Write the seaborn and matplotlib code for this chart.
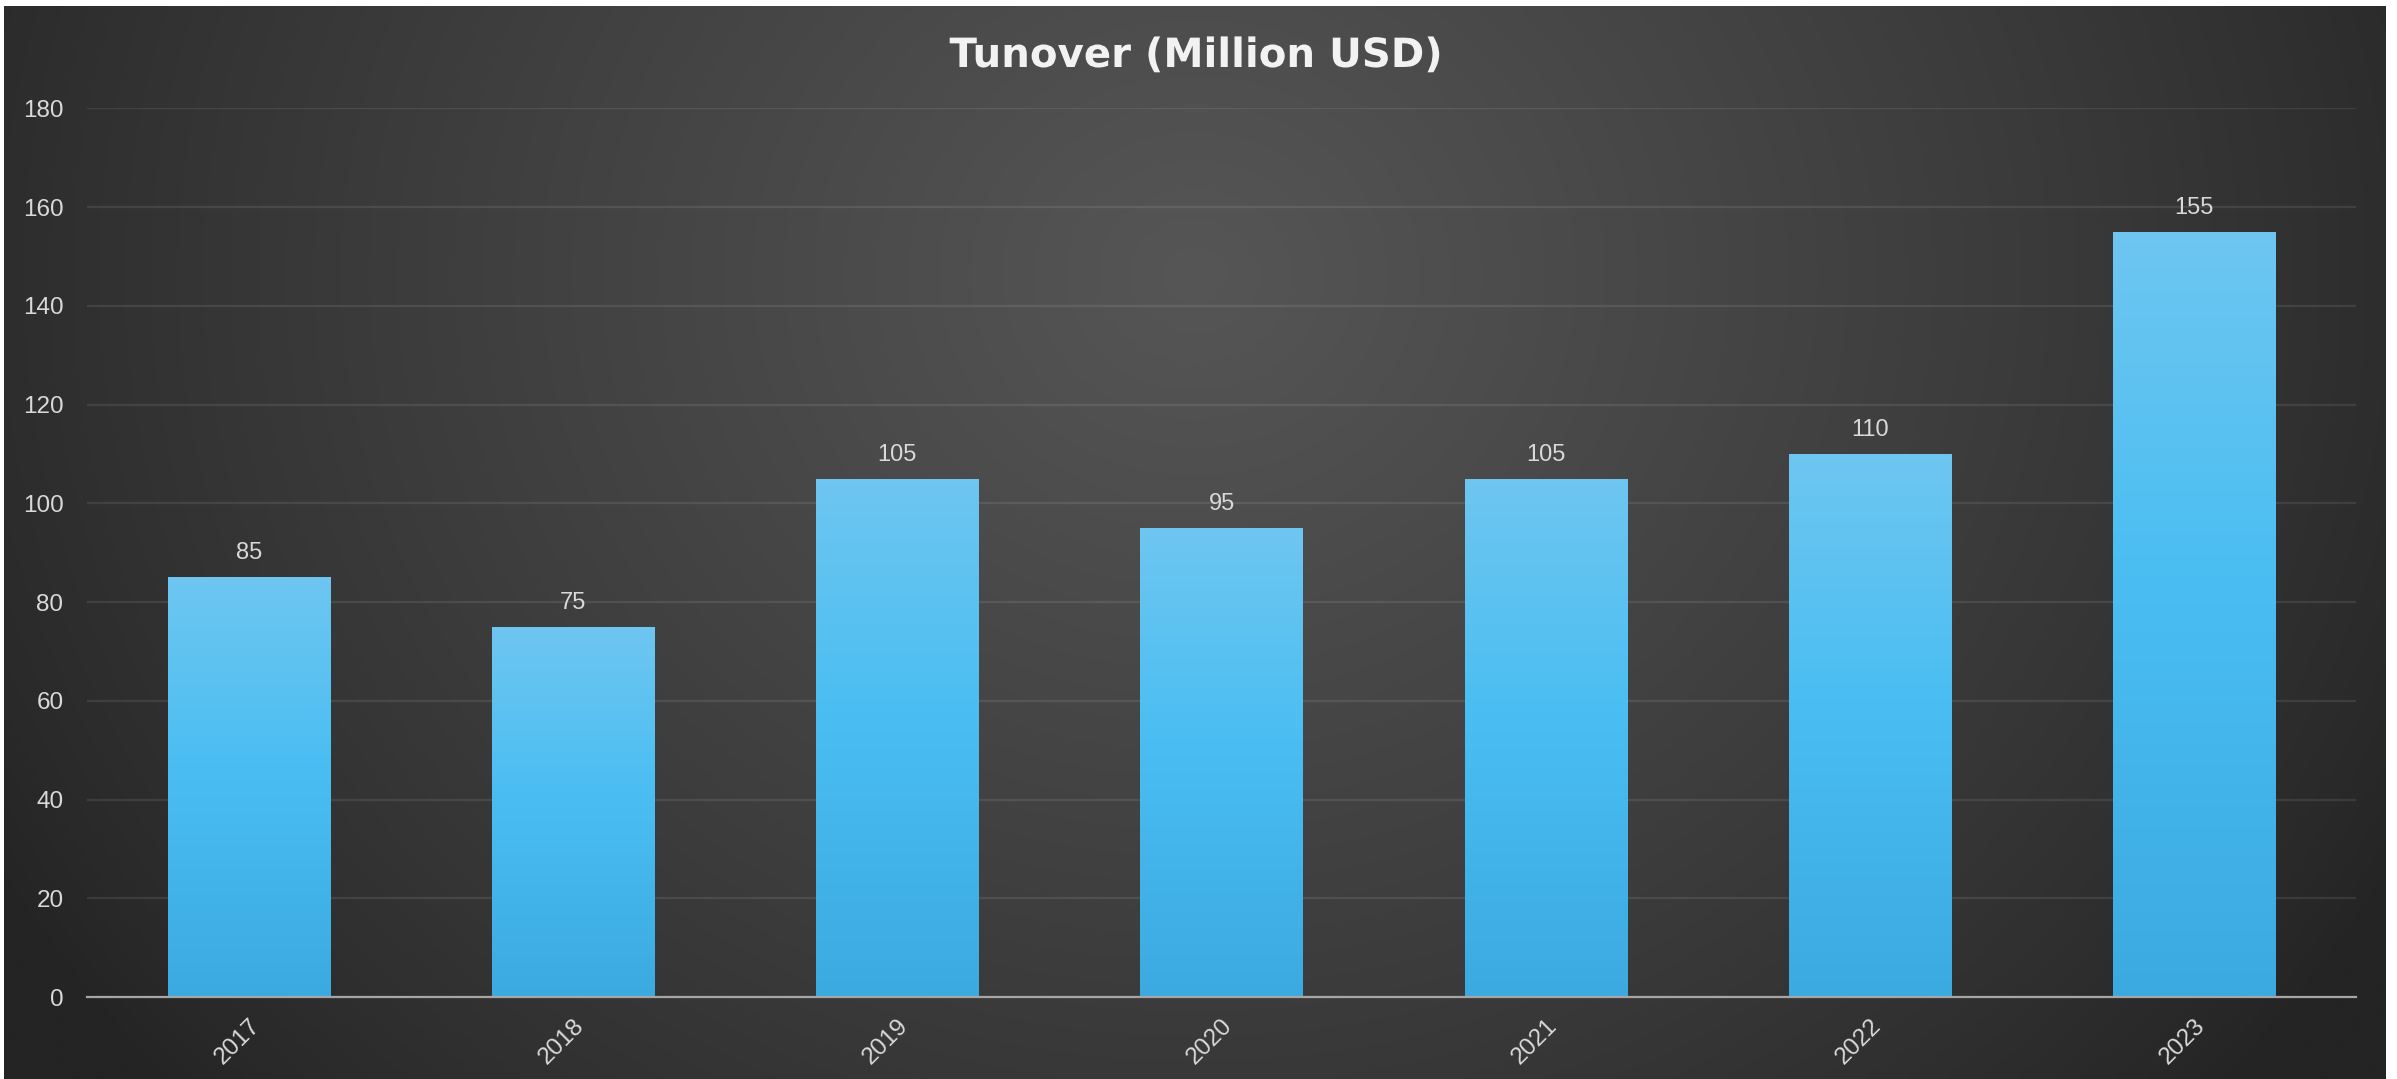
import numpy as np
import pandas as pd
import matplotlib
matplotlib.use("Agg")
import matplotlib.pyplot as plt
import matplotlib.patheffects as pe
from matplotlib.colors import LinearSegmentedColormap
import seaborn as sns

# ---- data ----
years = ["2017", "2018", "2019", "2020", "2021", "2022", "2023"]
turnover = [85, 75, 105, 95, 105, 110, 155]
title = "Tunover (Million USD)"
y_ticks = [0, 20, 40, 60, 80, 100, 120, 140, 160, 180]

df = pd.DataFrame({"year": years, "turnover": turnover})

sns.set_theme(style="white")
plt.rcParams["font.family"] = ["Liberation Sans", "DejaVu Sans"]

W, H, DPI = 2397, 1079, 100
fig = plt.figure(figsize=(W / DPI, H / DPI), dpi=DPI, facecolor="white")

# ---- dark radial background panel ----
bg = fig.add_axes([4 / W, 0, (2386 - 4) / W, (H - 6) / H], zorder=0)
gx, gy = np.meshgrid(np.linspace(0, 1, 480), np.linspace(0, 1, 220))
d = np.sqrt(((gx - 0.5) / 0.58) ** 2 + ((gy - 0.25) / 1.15) ** 2)
v = (0x24 + (0x56 - 0x24) * np.clip(1 - d, 0, 1) ** 0.85) / 255.0
img = np.dstack([v, v, v])
bg.imshow(img, extent=[0, 1, 0, 1], origin="upper", aspect="auto", interpolation="bicubic")
bg.set_axis_off()

# ---- main axes ----
ax = fig.add_axes([87 / W, 1 - 997 / H, (2356 - 87) / W, (997 - 108.5) / H], zorder=1)
ax.set_facecolor("none")

sns.barplot(data=df, x="year", y="turnover", width=0.5, color="#4BBFF2",
            edgecolor="none", linewidth=0, ax=ax, zorder=3)

grad_cmap = LinearSegmentedColormap.from_list(
    "bar", [(0.0, "#3BAAE0"), (0.55, "#4ABEF2"), (1.0, "#6EC6F0")])
grad = np.linspace(0, 1, 256).reshape(-1, 1)
for p in ax.patches:
    p.set_path_effects([pe.SimplePatchShadow(offset=(0, 0), shadow_rgbFace="black", alpha=0.35),
                        pe.Normal()])
    x0, y0 = p.get_x(), p.get_y()
    x1, y1 = x0 + p.get_width(), y0 + p.get_height()
    im = ax.imshow(grad, extent=[x0, x1, y0, y1], origin="lower", aspect="auto",
                   cmap=grad_cmap, zorder=3.5)
    im.set_clip_path(p)

ax.bar_label(ax.containers[0], fmt="%g", padding=9.5, fontsize=17, color="#d9d9d9", zorder=5)

ax.set_xlim(-0.5, 6.5)
ax.set_ylim(0, 180)
ax.set_yticks(y_ticks)
ax.yaxis.grid(True, color="white", alpha=0.09, linewidth=1.6, zorder=0)
ax.xaxis.grid(False)
ax.set_axisbelow(True)

for s in ["top", "right", "left"]:
    ax.spines[s].set_visible(False)
ax.spines["bottom"].set_color("#a6a6a6")
ax.spines["bottom"].set_linewidth(1.6)
ax.spines["bottom"].set_zorder(4)

ax.tick_params(axis="y", length=0, pad=17, labelsize=17.5, labelcolor="#d9d9d9")
ax.tick_params(axis="x", length=0, pad=13, labelsize=17.5, labelcolor="#d9d9d9")
for lab in ax.get_xticklabels():
    lab.set_rotation(45)
    lab.set_ha("right")
    lab.set_va("top")
    lab.set_rotation_mode("anchor")
ax.set_xlabel("")
ax.set_ylabel("")

fig.text(1196 / W, 1 - 56 / H, title, ha="center", va="center",
         fontsize=29, fontweight="bold", color="#f2f2f2", family=["DejaVu Sans"],
         path_effects=[pe.SimpleLineShadow(offset=(1.5, -1.5), alpha=0.5), pe.Normal()],
         zorder=5)

fig.savefig("out.png", dpi=DPI, facecolor="white")
